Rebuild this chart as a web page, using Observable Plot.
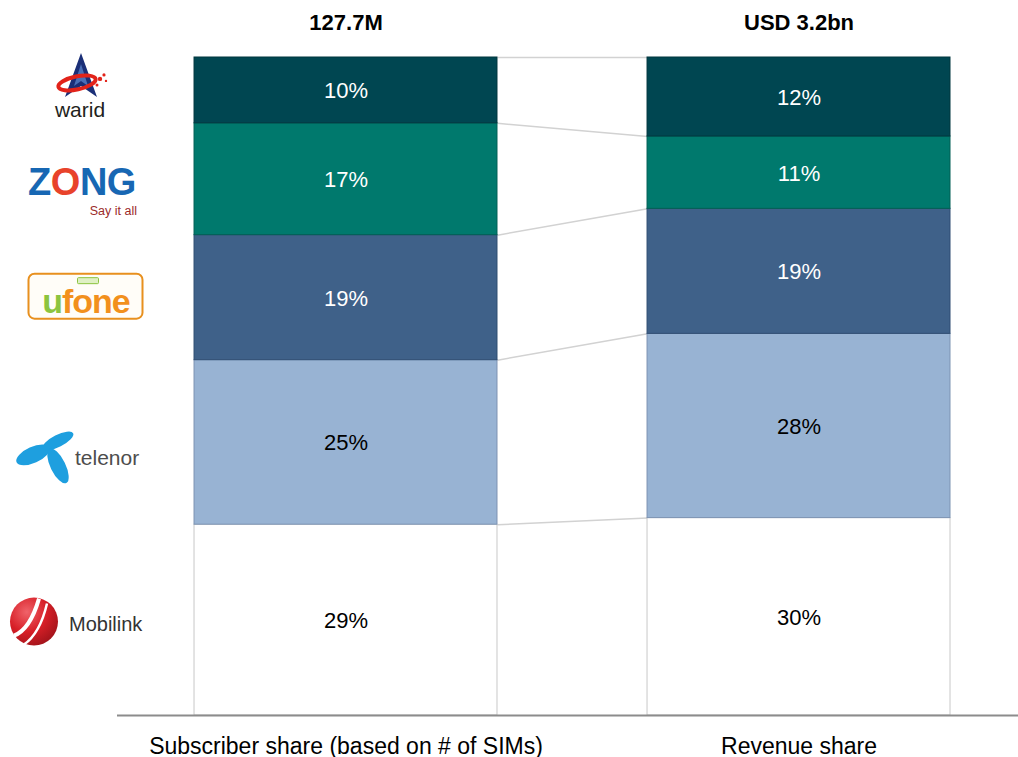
<!DOCTYPE html>
<html><head><meta charset="utf-8">
<script src="https://cdn.jsdelivr.net/npm/d3@7"></script>
<script src="https://cdn.jsdelivr.net/npm/@observablehq/plot@0.6"></script>
<style>
html,body{margin:0;padding:0;background:#fff;}
#chart{width:1018px;height:757px;}
</style></head>
<body><div id="chart"></div>
<script>
// ---- data ----
const operators = ["Mobilink", "Telenor", "Ufone", "Zong", "Warid"]; // bottom → top
const subscriberShare = [29, 25, 19, 17, 10];
const revenueShare = [30, 28, 19, 11, 12];
const measures = ["Subscriber share (based on # of SIMs)", "Revenue share"];
const totals = ["127.7M", "USD 3.2bn"];

// ---- styles ----
const fillColors = {Mobilink: "#ffffff", Telenor: "#98b3d3", Ufone: "#3f6189", Zong: "#00796d", Warid: "#004651"};
const strokeColors = {Mobilink: "#c8c8c8", Telenor: "#7d93b2", Ufone: "#2f4d72", Zong: "#005f55", Warid: "#00363e"};
const labelColors = {Mobilink: "#000000", Telenor: "#000000", Ufone: "#ffffff", Zong: "#ffffff", Warid: "#ffffff"};
const FONT = "'Liberation Sans', Arial, Helvetica, sans-serif";
const BAR_HALF = 0.3344;

// ---- derived tables ----
const rows = [];
[subscriberShare, revenueShare].forEach((vals, i) => {
  let acc = 0;
  operators.forEach((op, j) => {
    rows.push({measure: measures[i], idx: i, operator: op, value: vals[j], y1: acc, y2: acc + vals[j]});
    acc += vals[j];
  });
});
const links = operators.map(op => {
  const a = rows.find(r => r.idx === 0 && r.operator === op);
  const b = rows.find(r => r.idx === 1 && r.operator === op);
  return {operator: op, y1: a.y2, y2: b.y2};
});

// ---- logos (decorative, anchored to the left bar's segment centres) ----
function logosMark(index, scales) {
  const y = scales.y;
  const mids = {};
  rows.filter(r => r.idx === 0).forEach(r => mids[r.operator] = y((r.y1 + r.y2) / 2));
  const refs = {Warid: 90, Zong: 178, Ufone: 296, Telenor: 442, Mobilink: 620};
  const root = d3.create("svg:g").attr("font-family", FONT).attr("text-anchor", "start");
  const defs = root.append("defs");
  const rg = defs.append("radialGradient").attr("id", "mobiGrad").attr("cx", "35%").attr("cy", "30%").attr("r", "75%");
  rg.append("stop").attr("offset", "0%").attr("stop-color", "#f0636a");
  rg.append("stop").attr("offset", "55%").attr("stop-color", "#d71f27");
  rg.append("stop").attr("offset", "100%").attr("stop-color", "#a3141b");
  const grp = op => root.append("g").attr("transform", `translate(0,${mids[op] - refs[op]})`);

  // Warid
  let g = grp("Warid");
  g.append("path").attr("d", "M81,53 L97,97 L81,86 L65,97 Z").attr("fill", "#1b2f78");
  g.append("path").attr("d", "M81,64 L88,86 L81,81 L74,86 Z").attr("fill", "#4a6fb8");
  g.append("ellipse").attr("cx", 77).attr("cy", 83).attr("rx", 19).attr("ry", 6.5)
    .attr("transform", "rotate(-12 77 83)").attr("fill", "none").attr("stroke", "#e2231a").attr("stroke-width", 4);
  [[100, 79, 2.2], [104, 75, 1.6], [97, 85, 1.5], [106, 81, 1.2]].forEach(([cx, cy, r]) =>
    g.append("circle").attr("cx", cx).attr("cy", cy).attr("r", r).attr("fill", "#e2231a"));
  g.append("text").attr("x", 80).attr("y", 117).attr("text-anchor", "middle").attr("font-size", 21)
    .attr("fill", "#231f20").text("warid");

  // Zong
  g = grp("Zong");
  const zt = g.append("text").attr("x", 82).attr("y", 194).attr("text-anchor", "middle")
    .attr("font-size", 38).attr("font-weight", "bold").attr("letter-spacing", -0.5);
  zt.append("tspan").attr("fill", "#1767b3").text("Z");
  zt.append("tspan").attr("fill", "#e8432b").text("O");
  zt.append("tspan").attr("fill", "#1767b3").text("NG");
  g.append("text").attr("x", 137).attr("y", 214).attr("text-anchor", "end").attr("font-size", 12.5)
    .attr("fill", "#9b2a2a").text("Say it all");

  // Ufone
  g = grp("Ufone");
  g.append("rect").attr("x", 28.5).attr("y", 272.5).attr("width", 114).attr("height", 45).attr("rx", 6)
    .attr("fill", "#fffdf8").attr("stroke", "#e8901e").attr("stroke-width", 2);
  g.append("rect").attr("x", 77.5).attr("y", 276.5).attr("width", 21).attr("height", 6).attr("rx", 1)
    .attr("fill", "#dff0c4").attr("stroke", "#8cc43f").attr("stroke-width", 1);
  const ut = g.append("text").attr("x", 86).attr("y", 312).attr("text-anchor", "middle")
    .attr("font-size", 34).attr("font-weight", "bold").attr("letter-spacing", -1);
  ut.append("tspan").attr("fill", "#8cc43f").text("u");
  ut.append("tspan").attr("fill", "#f2901d").text("fone");

  // Telenor
  g = grp("Telenor");
  [[33, 455, 18, 8, -24], [58, 441, 17, 6, -27], [58, 466, 19, 7.5, 64]].forEach(([cx, cy, rx, ry, a]) =>
    g.append("ellipse").attr("cx", cx).attr("cy", cy).attr("rx", rx).attr("ry", ry)
      .attr("transform", `rotate(${a} ${cx} ${cy})`).attr("fill", "#1e9fdf"));
  g.append("text").attr("x", 75).attr("y", 465).attr("text-anchor", "start").attr("font-size", 21)
    .attr("fill", "#4d4d4d").text("telenor");

  // Mobilink
  g = grp("Mobilink");
  g.append("circle").attr("cx", 34).attr("cy", 622).attr("r", 24).attr("fill", "url(#mobiGrad)");
  g.append("path").attr("d", "M14,636 Q30,630 39,599").attr("fill", "none").attr("stroke", "#fff").attr("stroke-width", 4);
  g.append("path").attr("d", "M24,645 Q40,634 47,604").attr("fill", "none").attr("stroke", "#fff").attr("stroke-width", 2.5);
  g.append("text").attr("x", 69).attr("y", 631).attr("text-anchor", "start").attr("font-size", 20)
    .attr("fill", "#333").text("Mobilink");

  return root.node();
}

const chart = Plot.plot({
  width: 1018,
  height: 757,
  marginTop: 57,
  marginBottom: 42,
  marginLeft: 0,
  marginRight: 0,
  x: {type: "linear", domain: [-0.7627, 1.4845], axis: null},
  y: {domain: [0, 100], axis: null},
  color: {type: "identity"},
  style: {fontFamily: FONT, background: "#fff", overflow: "visible"},
  marks: [
    Plot.link(links, {x1: () => BAR_HALF, x2: () => 1 - BAR_HALF, y1: "y1", y2: "y2", stroke: "#d2d2d2", strokeWidth: 1.5}),
    Plot.rect(rows, {
      x1: d => d.idx - BAR_HALF, x2: d => d.idx + BAR_HALF, y1: "y1", y2: "y2",
      fill: d => fillColors[d.operator], stroke: d => strokeColors[d.operator], strokeWidth: 1
    }),
    Plot.ruleY([0], {stroke: "#8c8c8c", strokeWidth: 2, insetLeft: 117}),
    Plot.text(rows, {
      x: "idx", y: d => (d.y1 + d.y2) / 2, dy: 1, text: d => d.value + "%",
      fill: d => labelColors[d.operator], fontSize: 22
    }),
    Plot.text(totals, {x: (d, i) => i, y: () => 100, dy: -35, text: d => d, fontWeight: "bold", fontSize: 22, fill: "#000"}),
    Plot.text(measures, {x: (d, i) => i, y: () => 0, dy: 31, text: d => d, fontSize: 23, fill: "#000"}),
    logosMark
  ]
});
document.getElementById("chart").append(chart);
</script>
</body></html>
